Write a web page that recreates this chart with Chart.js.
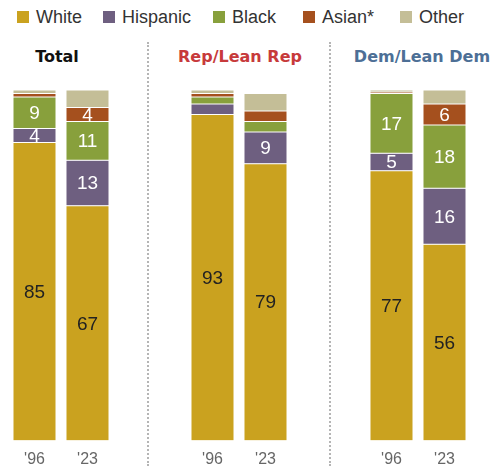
<!DOCTYPE html>
<html>
<head>
<meta charset="utf-8">
<script src="https://cdn.jsdelivr.net/npm/chart.js@4"></script>
<style>
  html, body { margin:0; padding:0; background:#fff; }
  #wrap { position:relative; width:495px; height:468px; overflow:hidden; font-family:"Liberation Sans", Arial, sans-serif; }
  .lg { position:absolute; top:7px; font-size:18px; color:#333; line-height:20px; white-space:nowrap; }
  .lg i { position:absolute; left:0; top:4px; width:12px; height:12px; }
  .lg span { position:absolute; left:19px; top:0; }
  .ttl { position:absolute; top:47px; font-family:"DejaVu Sans", sans-serif; font-weight:bold; font-size:16px; white-space:nowrap; transform:translateX(-50%); }
  .sep { position:absolute; top:42px; height:424px; width:0; border-left:2px dotted #b5b5b5; }
  canvas { position:absolute; }
</style>
</head>
<body>
<div id="wrap">
  <div id="legend"></div>
  <div class="sep" style="left:147px"></div>
  <div class="sep" style="left:329px"></div>
</div>
<script>
// ── DATA ──
const groups   = ['Total', 'Rep/Lean Rep', 'Dem/Lean Dem'];
const years    = ["'96", "'23"];
const series   = ['White', 'Hispanic', 'Black', 'Asian*', 'Other'];
// values per bar: Total '96, '23 | Rep '96, '23 | Dem '96, '23
const white    = [85, 67, 93, 79, 77, 56];
const hispanic = [4, 13, 3, 9, 5, 16];
const black    = [9, 11, 2, 3, 17, 18];
const asian    = [1, 4, 1, 3, 0.4, 6];
const other    = [1, 5, 1, 5, 0.6, 4];

// ── STYLE ──
const COLORS   = ['#caa21f', '#6e5f80', '#88a03c', '#a5501e', '#c4be97'];
const LABELCLR = ['#222', '#fff', '#fff', '#fff', null];
const TITLECLR = ['#111', '#c73a3b', '#4d6f96'];
const PANEL_X  = [8, 186, 365];      // canvas left for each panel
const TITLE_X  = [57, 240, 422];
const LEGEND_X = [17, 103, 213, 303, 400];
const allData  = [white, hispanic, black, asian, other];

// ── LEGEND ──
const wrap = document.getElementById('wrap');
series.forEach((s, i) => {
  const d = document.createElement('div');
  d.className = 'lg';
  d.style.left = LEGEND_X[i] + 'px';
  d.innerHTML = `<i style="background:${COLORS[i]}"></i><span>${s}</span>`;
  wrap.appendChild(d);
});

// ── SEGMENT LABELS ──
const segLabels = {
  id: 'segLabels',
  afterDatasetsDraw(chart) {
    const ctx = chart.ctx;
    ctx.save();
    ctx.font = '19px "Liberation Sans", Arial, sans-serif';
    ctx.textAlign = 'center';
    ctx.textBaseline = 'middle';
    chart.data.datasets.forEach((ds, di) => {
      if (!LABELCLR[di]) return;
      chart.getDatasetMeta(di).data.forEach((bar, j) => {
        const v = ds.data[j];
        if (v < 4) return;
        ctx.fillStyle = LABELCLR[di];
        ctx.fillText(Math.round(v), bar.x, (bar.y + bar.base) / 2 + 1);
      });
    });
    ctx.restore();
  }
};

// ── PANELS ──
groups.forEach((g, gi) => {
  const t = document.createElement('div');
  t.className = 'ttl';
  t.style.left = TITLE_X[gi] + 'px';
  t.style.color = TITLECLR[gi];
  t.textContent = g;
  wrap.appendChild(t);

  const cv = document.createElement('canvas');
  cv.style.left = PANEL_X[gi] + 'px';
  cv.style.top = '90px';
  cv.style.width = '106px';
  cv.style.height = '380px';
  cv.width = 106; cv.height = 380;
  wrap.appendChild(cv);

  new Chart(cv, {
    type: 'bar',
    data: {
      labels: years,
      datasets: series.map((s, si) => ({
        label: s,
        data: allData[si].slice(gi * 2, gi * 2 + 2),
        backgroundColor: COLORS[si],
        borderColor: 'rgba(255,255,255,0.35)',
        borderWidth: 0.5,
        borderSkipped: false,
        barPercentage: 43 / 53,
        categoryPercentage: 1
      }))
    },
    options: {
      responsive: false,
      animation: false,
      layout: { padding: 0 },
      plugins: { legend: { display: false }, tooltip: { enabled: false } },
      scales: {
        x: {
          stacked: true,
          grid: { display: false },
          border: { display: false },
          ticks: { color: '#666', font: { family: '"Liberation Sans", Arial, sans-serif', size: 16 }, padding: 1 }
        },
        y: { stacked: true, display: false, min: 0, max: 100 }
      }
    },
    plugins: [segLabels]
  });
});
</script>
</body>
</html>
